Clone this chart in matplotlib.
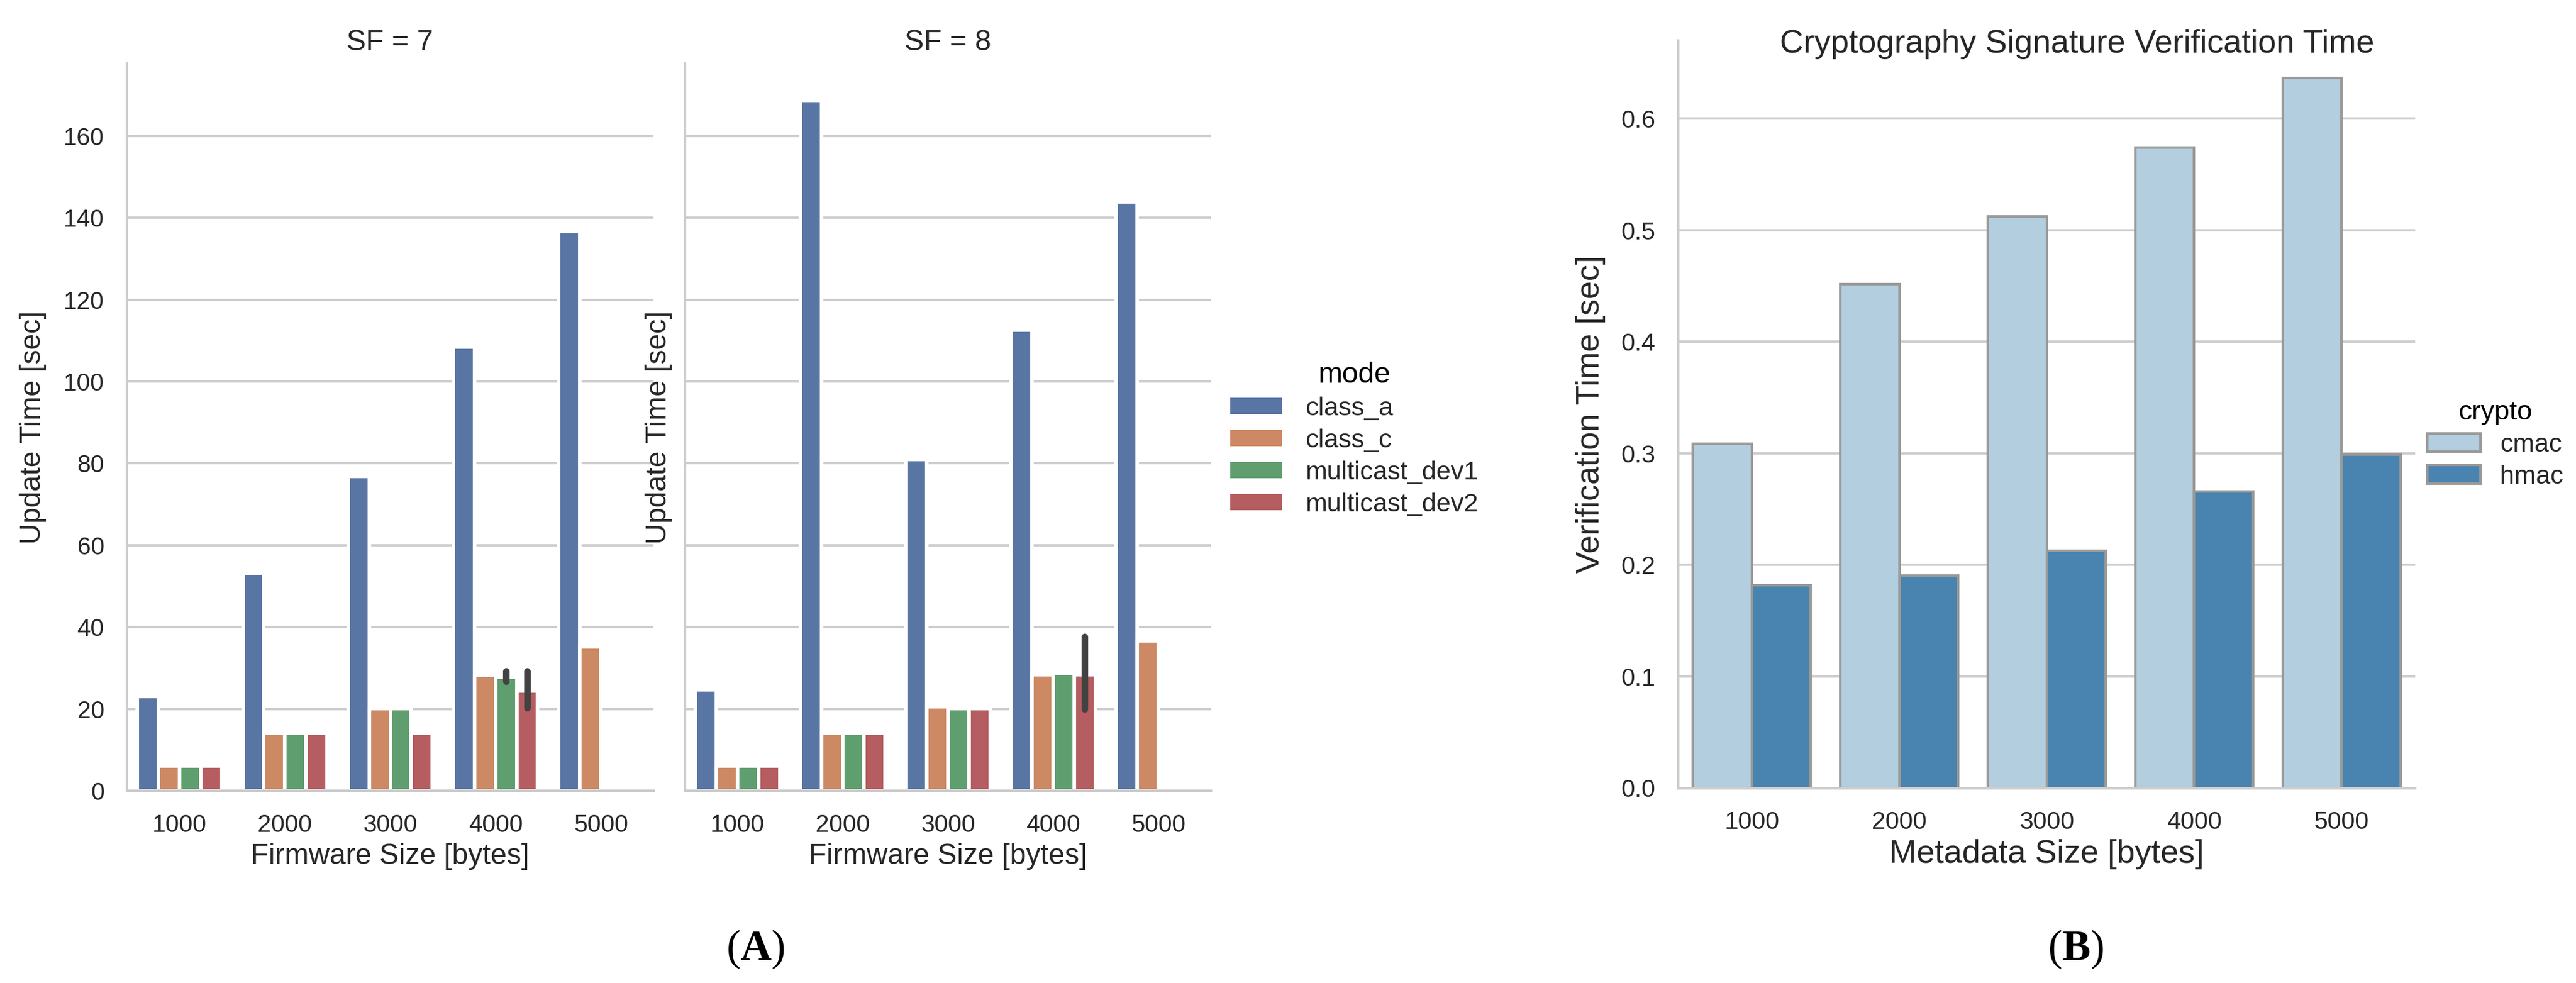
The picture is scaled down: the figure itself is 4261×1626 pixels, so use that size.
import matplotlib
matplotlib.use("Agg")
import matplotlib.pyplot as plt
import numpy as np
from matplotlib.patches import Patch

plt.rcParams["font.family"] = ["Liberation Sans", "DejaVu Sans"]
plt.rcParams["mathtext.fontset"] = "custom"
plt.rcParams["mathtext.rm"] = "Liberation Serif"
plt.rcParams["mathtext.bf"] = "Liberation Serif:bold"

W, H, DPI = 4261, 1626, 300
TEXT = "#262626"
GRID = "#cccccc"
ERR = "#424242"

# ---- panel A: update time per firmware size, one facet per spreading factor
sizes = [1000, 2000, 3000, 4000, 5000]
modes = ["class_a", "class_c", "multicast_dev1", "multicast_dev2"]

sf7_class_a = [23.0, 53.2, 76.8, 108.4, 136.7]
sf7_class_c = [6.1, 14.0, 20.1, 28.2, 35.2]
sf7_dev1 = [6.1, 14.0, 20.1, 27.7, np.nan]
sf7_dev2 = [6.1, 14.0, 14.0, 24.3, np.nan]

sf8_class_a = [24.6, 168.7, 81.0, 112.6, 143.9]
sf8_class_c = [6.1, 14.0, 20.5, 28.4, 36.7]
sf8_dev1 = [6.1, 14.0, 20.1, 28.6, np.nan]
sf8_dev2 = [6.1, 14.0, 20.1, 28.4, np.nan]

# confidence intervals (low, high), only where the figure shows one
sf7_ci = {("multicast_dev1", 4000): (26.7, 29.2),
          ("multicast_dev2", 4000): (20.2, 29.2)}
sf8_ci = {("multicast_dev2", 4000): (20.0, 37.6)}

update_ticks = [0, 20, 40, 60, 80, 100, 120, 140, 160]

# ---- panel B: signature verification time per metadata size
meta_sizes = [1000, 2000, 3000, 4000, 5000]
cryptos = ["cmac", "hmac"]
cmac_time = [0.3085, 0.4518, 0.5122, 0.5741, 0.6363]
hmac_time = [0.1819, 0.1905, 0.2126, 0.2658, 0.2990]
verif_ticks = [0.0, 0.1, 0.2, 0.3, 0.4, 0.5, 0.6]

MODE_COLORS = ["#5875a4", "#cc8963", "#5f9e6e", "#b55d60"]
CRYPTO_COLORS = ["#b2cedf", "#4884af"]


def px_axes(fig, left, top, right, bottom):
    return fig.add_axes([left / W, 1 - bottom / H, (right - left) / W, (bottom - top) / H])


def style(ax, fontsize):
    for side in ("top", "right"):
        ax.spines[side].set_visible(False)
    for side in ("left", "bottom"):
        ax.spines[side].set_color(GRID)
        ax.spines[side].set_linewidth(1.0)
    ax.set_axisbelow(True)
    ax.yaxis.grid(True, color=GRID, lw=0.9)
    ax.xaxis.grid(False)
    ax.tick_params(length=0, pad=9, labelsize=fontsize, colors=TEXT)


def draw_mode_panel(ax, series, ci):
    x = np.arange(len(sizes))
    width = 0.8 / len(modes)
    for i, (name, vals, color) in enumerate(zip(modes, series, MODE_COLORS)):
        pos = x - 0.4 + width * (i + 0.5)
        vals = np.asarray(vals, dtype=float)
        ok = ~np.isnan(vals)
        ax.bar(pos[ok], vals[ok], width=width, color=color,
               edgecolor="white", linewidth=1.4, zorder=2)
        for j, size in enumerate(sizes):
            if (name, size) in ci:
                lo, hi = ci[(name, size)]
                ax.plot([pos[j], pos[j]], [lo, hi], color=ERR, lw=2.6,
                        solid_capstyle="round", zorder=3)
    ax.set_xlim(-0.5, len(sizes) - 0.5)
    ax.set_ylim(0, 177.7)
    ax.set_xticks(x, [str(s) for s in sizes])
    ax.set_yticks(update_ticks)
    ax.set_xlabel("Firmware Size [bytes]", fontsize=11.5, color=TEXT)
    ax.set_ylabel("Update Time [sec]", fontsize=11.5, color=TEXT)
    ax.xaxis.set_label_coords(0.5, -0.0715)


fig = plt.figure(figsize=(W / DPI, H / DPI), dpi=DPI)

ax7 = px_axes(fig, 210, 105, 1081, 1308)
ax8 = px_axes(fig, 1133, 105, 2003, 1308)
for ax in (ax7, ax8):
    style(ax, 9.7)
draw_mode_panel(ax7, [sf7_class_a, sf7_class_c, sf7_dev1, sf7_dev2], sf7_ci)
draw_mode_panel(ax8, [sf8_class_a, sf8_class_c, sf8_dev1, sf8_dev2], sf8_ci)
ax8.tick_params(labelleft=False)
ax7.yaxis.set_label_coords(-0.1527, 0.5)
ax8.yaxis.set_label_coords(-0.024, 0.5)
fig.text(645 / W, 1 - 83 / H, "SF = 7", ha="center", va="baseline", fontsize=11.6, color=TEXT)
fig.text(1568 / W, 1 - 83 / H, "SF = 8", ha="center", va="baseline", fontsize=11.6, color=TEXT)

mode_handles = [Patch(facecolor=c, edgecolor="none") for c in MODE_COLORS]
fig.legend(mode_handles, modes, loc="upper left",
           bbox_to_anchor=(2035 / W, 1 - 598 / H), bbox_transform=fig.transFigure,
           frameon=False, title="mode", title_fontsize=11.5, fontsize=10.3,
           borderpad=0, borderaxespad=0, handlelength=2.0, handleheight=0.6,
           handletextpad=0.9, labelspacing=0.3, labelcolor=TEXT)

# ---- panel B
axb = px_axes(fig, 2776, 67, 3995, 1303.5)
style(axb, 9.8)
xb = np.arange(len(meta_sizes))
for i, (vals, color) in enumerate(zip([cmac_time, hmac_time], CRYPTO_COLORS)):
    axb.bar(xb - 0.4 + 0.4 * (i + 0.5), vals, width=0.4, color=color,
            edgecolor="#999999", linewidth=1.0, zorder=2)
axb.set_xlim(-0.5, len(meta_sizes) - 0.5)
axb.set_ylim(0, 0.67)
axb.set_yticks(verif_ticks, [f"{v:.1f}" for v in verif_ticks])
axb.set_xticks(xb, [str(s) for s in meta_sizes])
axb.set_xlabel("Metadata Size [bytes]", fontsize=13, color=TEXT)
axb.set_ylabel("Verification Time [sec]", fontsize=13, color=TEXT)
axb.xaxis.set_label_coords(0.5, -0.0683)
axb.yaxis.set_label_coords(-0.0984, 0.5)
fig.text(3436 / W, 1 - 87 / H, "Cryptography Signature Verification Time",
         ha="center", va="baseline", fontsize=13, color=TEXT)

crypto_handles = [Patch(facecolor=c, edgecolor="#999999", linewidth=1.0) for c in CRYPTO_COLORS]
fig.legend(crypto_handles, cryptos, loc="upper left",
           bbox_to_anchor=(4015 / W, 1 - 662 / H), bbox_transform=fig.transFigure,
           frameon=False, title="crypto", title_fontsize=10.8, fontsize=10.3,
           borderpad=0, borderaxespad=0, handlelength=2.05, handleheight=0.72,
           handletextpad=0.75, labelspacing=0.3, labelcolor=TEXT)

fig.text(1250 / W, 1 - 1570 / H, r"($\mathbf{A}$)", ha="center", va="center",
         fontsize=17, family="Liberation Serif", color="black")
fig.text(3434 / W, 1 - 1570 / H, r"($\mathbf{B}$)", ha="center", va="center",
         fontsize=17, family="Liberation Serif", color="black")

fig.savefig("out.png", dpi=DPI)
